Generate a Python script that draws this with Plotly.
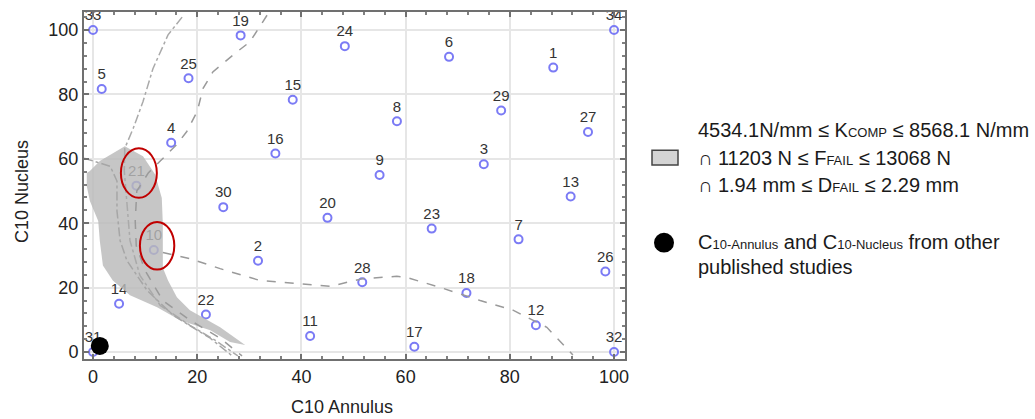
import plotly.graph_objects as go

# ---- data ----
point_ids = ["33", "31", "34", "32", "5", "14", "21", "10", "4", "25", "22", "30", "19", "2",
             "16", "15", "11", "20", "24", "28", "9", "8", "17", "23", "6", "18", "3", "29",
             "7", "12", "1", "13", "27", "26"]
annulus = [0, 0, 100, 100, 1.67, 5, 8.33, 11.67, 15, 18.33, 21.67, 25, 28.33, 31.67,
           35, 38.33, 41.67, 45, 48.33, 51.67, 55, 58.33, 61.67, 65, 68.33, 71.67, 75, 78.33,
           81.67, 85, 88.33, 91.67, 95, 98.33]
nucleus = [100, 0, 100, 0, 81.67, 15, 51.67, 31.67, 65, 85, 11.67, 45, 98.33, 28.33,
           61.67, 78.33, 5, 41.67, 95, 21.67, 55, 71.67, 1.67, 38.33, 91.67, 18.33, 58.33, 75,
           35, 8.33, 88.33, 48.33, 68.33, 25]

# feasible region (grey)
region_x = [6.1, 9.6, 11.9, 13.2, 13.4, 13.4, 13.4, 14.4, 16.1, 18.6, 24.4, 29.2, 26.3, 22.5,
            16.7, 12.3, 7.1, 3.8, 1.9, 1.3, 1.0, -0.6, -1.2, -1.2, -0.6, 1.3]
region_y = [63.9, 60.8, 55.2, 47.8, 39.8, 31.5, 26.2, 22.2, 17.0, 13.0, 7.7, 2.2, 3.1, 6.8,
            9.9, 13.9, 17.6, 22.2, 26.9, 34.6, 40.7, 46.9, 51.5, 55.6, 56.2, 59.3]

# contour curves
curveA_x = [17.1, 14.4, 11.5, 9.6, 7.7, 6.1, 6.0, 6.5, 7.1, 9.0, 12.9, 18.6, 23.4, 27.8]
curveA_y = [104.0, 98.5, 88.0, 77.8, 69.4, 63.3, 56.2, 46.9, 34.6, 23.8, 14.5, 8.3, 3.7, -1.2]
curveD_x = [-1.7, 3.3, 4.6, 4.6, 5.2, 6.5, 10.4, 15.4, 22.5, 26.7]
curveD_y = [60.2, 57.7, 53.1, 43.8, 34.6, 28.4, 19.1, 11.4, 4.3, -1.2]
curveB_x = [33.4, 30.1, 27.6, 23.0, 21.1, 20.0, 18.0, 16.1, 12.9, 10.6, 8.4, 8.1, 8.3, 10.0,
            13.4, 18.6, 24.4, 28.6]
curveB_y = [104.6, 96.3, 93.2, 87.0, 81.8, 74.7, 68.5, 64.5, 59.3, 55.6, 50.0, 40.7, 33.0, 25.3,
            16.0, 9.9, 4.3, -1.2]
curveC_x = [13.4, 18.6, 24.4, 32.1, 36.5, 45.5, 51.8, 58.3, 60.3, 66.6, 74.3, 80.6, 87.1, 92.1]
curveC_y = [30.9, 29.0, 25.9, 22.2, 21.6, 20.4, 22.8, 23.5, 23.1, 20.1, 16.0, 13.0, 7.7, -0.9]

# published studies point
other_x = [1.3]
other_y = [1.9]

x_ticks = [0, 20, 40, 60, 80, 100]
y_ticks = [0, 20, 40, 60, 80, 100]

FONT = "Liberation Sans, Arial, sans-serif"

fig = go.Figure()

fig.add_trace(go.Scatter(
    x=annulus, y=nucleus, mode="markers+text", text=point_ids,
    textposition="top center", cliponaxis=False,
    textfont=dict(family=FONT, size=15, color="#333333"),
    marker=dict(symbol="circle-open", size=8, color="#7b7bf5", line=dict(width=2)),
    hoverinfo="skip", showlegend=False))

fig.add_trace(go.Scatter(
    x=region_x, y=region_y, mode="lines", fill="toself",
    fillcolor="rgba(185,185,185,0.82)", line=dict(width=0),
    hoverinfo="skip", showlegend=False))

for cx, cy, dash, col in [(curveA_x, curveA_y, "dashdot", "#aaaaaa"),
                          (curveD_x, curveD_y, "dashdot", "#a6a6a6"),
                          (curveB_x, curveB_y, "dash", "#9a9a9a"),
                          (curveC_x, curveC_y, "dash", "#9a9a9a")]:
    fig.add_trace(go.Scatter(x=cx, y=cy, mode="lines",
                             line=dict(color=col, width=1.5, dash=dash),
                             hoverinfo="skip", showlegend=False))

fig.add_trace(go.Scatter(x=other_x, y=other_y, mode="markers",
                         marker=dict(size=18, color="black"),
                         hoverinfo="skip", showlegend=False))

# red ellipses
for cx, cy, rx, ry in [(8.8, 55.6, 3.45, 7.7), (12.3, 33.0, 3.3, 7.4)]:
    fig.add_shape(type="circle", xref="x", yref="y", x0=cx - rx, x1=cx + rx,
                  y0=cy - ry, y1=cy + ry, line=dict(color="#c00000", width=2))

L, R, T, B = 84, 625, 10, 359


def px(xp):
    return (xp - L) / (R - L)


def py(yp):
    return (B - yp) / (B - T)


# legend: grey box
fig.add_shape(type="rect", xref="paper", yref="paper",
              x0=px(652), x1=px(678), y0=py(164), y1=py(149),
              fillcolor="#d4d4d4", line=dict(color="#444444", width=1.5))
fig.add_shape(type="circle", xref="paper", yref="paper",
              x0=px(654), x1=px(674), y0=py(252), y1=py(232),
              fillcolor="black", line=dict(color="black", width=0))

small = '<span style="font-size:13px">{}</span>'
legend_lines = [
    ("4534.1N/mm \u2264 K" + small.format("COMP") + " \u2264 8568.1 N/mm", 129),
    ("\u2229 11203 N \u2264 F" + small.format("FAIL") + " \u2264 13068 N", 157),
    ("\u2229 1.94 mm \u2264 D" + small.format("FAIL") + " \u2264 2.29 mm", 184),
    ("C" + small.format("10-Annulus") + " and C" + small.format("10-Nucleus") + " from other", 241),
    ("published studies", 266),
]
for txt, yy in legend_lines:
    fig.add_annotation(text=txt, xref="paper", yref="paper", x=px(696), y=py(yy),
                       xanchor="left", yanchor="middle", showarrow=False,
                       font=dict(family=FONT, size=20, color="#1a1a1a"))

# axis titles
fig.add_annotation(text="C10 Annulus", xref="paper", yref="paper", x=px(342), y=py(407),
                   xanchor="center", yanchor="middle", showarrow=False,
                   font=dict(family=FONT, size=18, color="#222222"))
fig.add_annotation(text="C10 Nucleus", xref="paper", yref="paper", x=px(22), y=py(191),
                   xanchor="center", yanchor="middle", showarrow=False, textangle=-90,
                   font=dict(family=FONT, size=18, color="#222222"))

axis_common = dict(
    showgrid=True, gridcolor="#e6e6e6", gridwidth=2, zeroline=False,
    showline=True, linecolor="#707070", linewidth=2, mirror="ticks",
    ticks="inside", ticklen=5, tickcolor="#707070", tickwidth=1.5,
    tickfont=dict(family=FONT, size=18, color="#222222"),
    minor=dict(ticks="inside", ticklen=3, tickcolor="#808080", dtick=4, tick0=0, showgrid=False),
)

fig.update_layout(
    width=1035, height=419, autosize=False,
    margin=dict(l=L, r=1035 - R, t=T, b=419 - B),
    paper_bgcolor="white", plot_bgcolor="white",
    xaxis=dict(range=[-1.73, 102.1], tickvals=x_ticks, **axis_common),
    yaxis=dict(range=[-2.16, 105.6], tickvals=y_ticks, **axis_common),
)

fig.write_html("out.html")
